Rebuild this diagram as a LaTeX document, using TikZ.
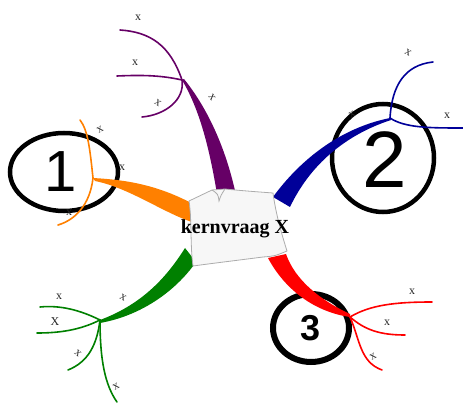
\documentclass[tikz,border=0pt]{standalone}
\usepackage{fontspec}
\setmainfont{Liberation Serif}
\newfontfamily\digitfont{Liberation Sans}
\usetikzlibrary{calc}

\begin{document}
\begin{tikzpicture}[x=1pt, y=-1pt,
  twig/.style={line width=1.6pt, line cap=round},
  ring/.style={draw=black, line width=4.5pt},
  tick/.style={font=\fontsize{12}{12}\selectfont, text=black!85, inner sep=0pt},
  digit/.style={font=\digitfont, inner sep=0pt}]
\useasboundingbox (0,0) rectangle (463,403);

% circles
\draw[ring] (64,172) ellipse [x radius=54, y radius=39];
\draw[ring] (383,158) ellipse [x radius=51, y radius=54];
\draw[ring, line width=6pt] (311,328) ellipse [x radius=38, y radius=34];
\node[digit, font=\digitfont\fontsize{58}{58}\selectfont] (one) at (61,172) {1};
\node[digit, font=\digitfont\fontsize{80}{80}\selectfont] (two) at (385,160) {2};
\node[digit, font=\digitfont\bfseries\fontsize{36}{36}\selectfont] (three) at (311,328) {3};

% junctions
\coordinate (jp) at (182,80);
\coordinate (jo) at (93,178);
\coordinate (jb) at (390,118);
\coordinate (jr) at (350,317);
\coordinate (jg) at (100,320);

% thick branches
\fill[violet!80!black] (218,200) .. controls (210,150) and (200,110) .. (jp)
  -- (184,79) .. controls (205,105) and (226,145) .. (237,200) -- cycle;
\fill[orange] (jo) .. controls (130,180) and (160,186) .. (195,205)
  -- (195,223) .. controls (165,214) and (130,188) .. (95,181) -- cycle;
\fill[blue!60!black] (273,197) .. controls (300,160) and (340,128) .. (jb)
  -- (391,120) .. controls (345,135) and (310,165) .. (290,207) -- cycle;
\fill[red] (268,258) .. controls (285,290) and (315,312) .. (jr)
  -- (350,314) .. controls (320,300) and (295,280) .. (286,254) -- cycle;
\fill[green!50!black] (185,248) .. controls (165,280) and (140,305) .. (jg)
  -- (100,323) .. controls (140,316) and (175,292) .. (196,262) -- cycle;

% thin branches
\begin{scope}[twig, violet!80!black]
  \draw (jp) .. controls (170,45) and (150,32) .. (120,30);
  \draw (jp) .. controls (160,75) and (140,75) .. (117,76);
  \draw (jp) .. controls (185,100) and (165,115) .. (142,117);
\end{scope}
\begin{scope}[twig, orange]
  \draw (jo) .. controls (90,150) and (88,130) .. (80,120);
  \draw (jo) .. controls (90,205) and (75,220) .. (58,225);
\end{scope}
\begin{scope}[twig, blue!60!black]
  \draw (jb) .. controls (392,85) and (405,65) .. (433,62);
  \draw (jb) .. controls (405,128) and (430,128) .. (463,128);
\end{scope}
\begin{scope}[twig, red]
  \draw (jr) .. controls (370,305) and (395,302) .. (432,302);
  \draw (jr) .. controls (365,330) and (380,335) .. (405,335);
  \draw (jr) .. controls (360,340) and (360,362) .. (382,370);
\end{scope}
\begin{scope}[twig, green!50!black]
  \draw (jg) .. controls (80,310) and (60,305) .. (40,307);
  \draw (jg) .. controls (80,330) and (60,333) .. (37,333);
  \draw (jg) .. controls (97,345) and (88,362) .. (68,370);
  \draw (jg) .. controls (100,360) and (105,385) .. (117,402);
\end{scope}

% paper sheet
\filldraw[draw=gray!65, fill=gray!6, line width=0.8pt]
  (189,201) .. controls (200,196) .. (212,190) -- (225,189)
  .. controls (245,191) and (260,192) .. (273,193)
  .. controls (276,215) and (282,235) .. (287,251)
  .. controls (275,256) .. (263,257)
  .. controls (240,260) and (215,263) .. (193,266)
  .. controls (190,245) and (192,220) .. cycle;
\draw[gray!65, line width=0.8pt] (212,190) .. controls (218,194) .. (219,201)
  .. controls (221,195) .. (225,189);
\node[font=\bfseries\fontsize{20}{20}\selectfont, inner sep=0pt] (kern) at (235,229) {kernvraag X};

% labels
\node[tick] (p1) at (138,18) {x};
\node[tick] (p2) at (135,63) {x};
\node[tick, rotate=-35] (p3) at (158,103) {x};
\node[tick, rotate=-55] (p4) at (212,97) {x};
\node[tick, rotate=30] (o1) at (100,130) {x};
\node[tick] (o2) at (122,168) {x};
\node[tick] (o3) at (69,213) {x};
\node[tick, rotate=-30] (b1) at (408,53) {x};
\node[tick] (b2) at (447,116) {x};
\node[tick, rotate=30] (b3) at (352,115) {x};
\node[tick] (r1) at (412,292) {x};
\node[tick] (r2) at (387,323) {x};
\node[tick, rotate=30] (r3) at (373,357) {x};
\node[tick] (g1) at (59,297) {x};
\node[tick] (g2) at (55,322) {X};
\node[tick, rotate=-40] (g3) at (78,353) {x};
\node[tick, rotate=30] (g4) at (116,387) {x};
\node[tick, rotate=-30] (g5) at (123,298) {x};
\end{tikzpicture}
\end{document}
